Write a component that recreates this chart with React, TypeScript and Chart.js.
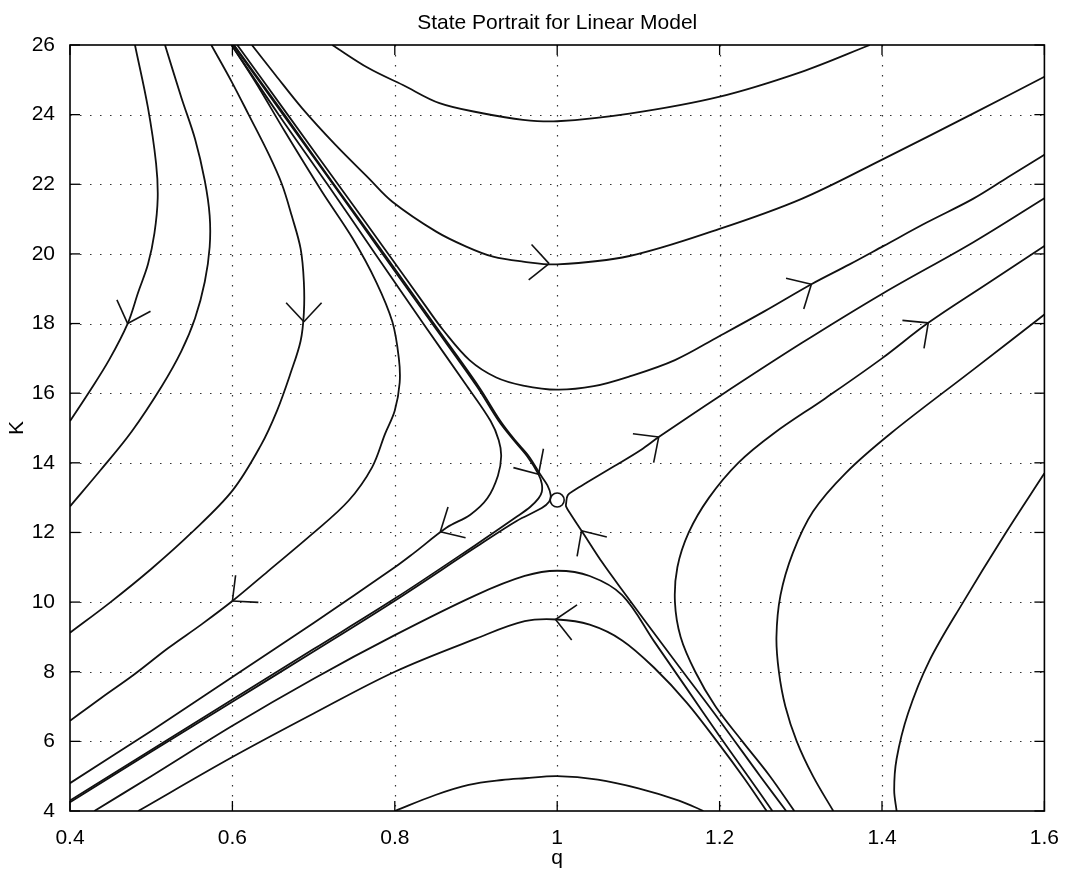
import { useEffect, useRef } from "react";
import { Chart, registerables } from "chart.js";

Chart.register(...registerables);

type P = [number, number];

const titleText = "State Portrait for Linear Model";
const xLabel = "q";
const yLabel = "K";
const qTicks = [0.4, 0.6, 0.8, 1.0, 1.2, 1.4, 1.6];
const kTicks = [4, 6, 8, 10, 12, 14, 16, 18, 20, 22, 24, 26];

const curveA: P[] = [[0.48,26],[0.496,24.2],[0.506,22.6],[0.508,21.6],[0.504,20.6],[0.496,19.7],[0.484,18.9],[0.471,18.0],[0.448,16.95],[0.424,16.05],[0.4,15.2]];
const curveB: P[] = [[0.517,26],[0.537,24.5],[0.554,23.3],[0.566,22.1],[0.572,21.1],[0.572,20.2],[0.566,19.2],[0.554,18.15],[0.537,17.2],[0.513,16.2],[0.476,14.9],[0.438,13.8],[0.4,12.75]];
const curveC: P[] = [[0.574,26],[0.599,24.95],[0.62,24.0],[0.645,22.85],[0.661,22.0],[0.673,21.1],[0.684,20.15],[0.688,19.2],[0.688,18.3],[0.684,17.5],[0.672,16.6],[0.655,15.5],[0.635,14.5],[0.6,13.2],[0.55,12.0],[0.5,10.95],[0.45,10.0],[0.4,9.12]];
const curveD: P[] = [[0.599,26],[0.628,24.95],[0.665,23.5],[0.71,21.8],[0.748,20.45],[0.777,19.2],[0.797,18.05],[0.805,17.0],[0.806,16.3],[0.8,15.5],[0.788,14.83],[0.772,13.87],[0.743,12.91],[0.698,11.95],[0.644,10.89],[0.6,10.03],[0.562,9.36],[0.521,8.68],[0.479,7.92],[0.438,7.24],[0.4,6.59]];
const curveE: P[] = [[0.599,26],[0.657,24],[0.717,22],[0.776,20],[0.835,18],[0.889,16.2],[0.918,15.2],[0.928,14.65],[0.931,14.19],[0.927,13.63],[0.914,12.98],[0.893,12.51],[0.864,12.14],[0.823,11.4],[0.8,11.0],[0.7,9.4],[0.6,7.85],[0.5,6.3],[0.4,4.8]];
const curveS1: P[] = [[0.601,26],[0.6625,24],[0.724,22],[0.785,20],[0.846,18],[0.901,16.2],[0.928,15.2],[0.9465,14.65],[0.963,14.19],[0.977,13.67],[0.981,13.4],[0.981,13.16],[0.977,12.98],[0.967,12.74],[0.95,12.45],[0.9,11.65],[0.8,10.1],[0.7,8.65],[0.6,7.2],[0.5,5.75],[0.4,4.3]];
const curveS2: P[] = [[0.602,26],[0.664,24],[0.725,22],[0.787,20],[0.848,18],[0.903,16.2],[0.93,15.2],[0.948,14.65],[0.965,14.19],[0.979,13.67],[0.988,13.35],[0.992,13.07],[0.99,12.88],[0.981,12.7],[0.95,12.33],[0.9,11.58],[0.8,10.04],[0.7,8.58],[0.6,7.14],[0.5,5.7],[0.4,4.25]];
const curveT1: P[] = [[0.723,26],[0.768,25.33],[0.81,24.85],[0.855,24.33],[0.908,24.04],[0.958,23.85],[1.0,23.81],[1.089,24.03],[1.199,24.51],[1.301,25.23],[1.385,26]];
const curveT2: P[] = [[0.624,26],[0.653,25.14],[0.686,24.18],[0.727,23.13],[0.768,22.17],[0.797,21.5],[0.851,20.64],[0.888,20.21],[0.921,19.92],[0.958,19.78],[1.0,19.7],[1.089,19.94],[1.199,20.71],[1.301,21.58],[1.402,22.73],[1.512,24.03],[1.6,25.09]];
const curveT3: P[] = [[0.606,26],[0.668,24],[0.73,22],[0.792,20],[0.838,18.5],[0.86,17.8],[0.892,16.95],[0.925,16.45],[0.958,16.22],[1.0,16.1],[1.045,16.2],[1.089,16.48],[1.145,16.95],[1.199,17.63],[1.255,18.35],[1.313,19.13],[1.36,19.7],[1.402,20.23],[1.455,20.9],[1.512,21.58],[1.555,22.2],[1.6,22.85]];
const curveR1: P[] = [[1.282,4],[1.25,5.0],[1.2,6.6],[1.15,8.15],[1.11,9.4],[1.085,10.19],[1.056,11.12],[1.03,12.05],[1.017,12.51],[1.011,12.74],[1.011,12.84],[1.013,13.07],[1.021,13.21],[1.037,13.44],[1.07,13.9],[1.103,14.37],[1.125,14.74],[1.199,15.9],[1.301,17.44],[1.402,18.88],[1.512,20.33],[1.6,21.6]];
const curveR2: P[] = [[1.292,4],[1.262,5.0],[1.228,6.0],[1.195,7.0],[1.17,8.0],[1.152,9.0],[1.145,10.0],[1.148,11.0],[1.162,12.0],[1.187,13.0],[1.223,14.0],[1.267,14.85],[1.33,15.85],[1.4,17.0],[1.457,18.02],[1.53,19.15],[1.6,20.23]];
const curveR3: P[] = [[1.34,4],[1.315,5.0],[1.295,6.0],[1.281,7.0],[1.273,8.0],[1.27,9.0],[1.275,10.2],[1.29,11.4],[1.315,12.6],[1.355,13.7],[1.411,14.85],[1.512,16.67],[1.6,18.26]];
const curveR4: P[] = [[1.418,4],[1.415,4.6],[1.418,5.5],[1.432,6.8],[1.458,8.3],[1.5,10.0],[1.55,11.9],[1.6,13.7]];
const curveL1: P[] = [[0.43,4],[0.5,5.0],[0.6,6.45],[0.7,7.8],[0.8,9.05],[0.9,10.2],[0.96,10.75],[1.0,10.9],[1.04,10.75],[1.08,10.2],[1.12,8.85],[1.16,7.5],[1.2,6.15],[1.235,5.0],[1.265,4.0]];
const curveL2: P[] = [[0.484,4],[0.6,5.55],[0.7,6.8],[0.8,8.0],[0.9,8.95],[0.96,9.45],[1.0,9.5],[1.04,9.35],[1.08,8.9],[1.12,8.1],[1.16,7.1],[1.2,5.9],[1.23,4.95],[1.258,4.0]];
const curveL3: P[] = [[0.8,4],[0.85,4.46],[0.891,4.75],[0.932,4.89],[0.96,4.94],[1.0,5.0],[1.05,4.9],[1.1,4.65],[1.15,4.3],[1.18,4.0]];

const saddlePoint: P[] = [[1.0, 12.93]];

// arrow heads: tip point and a point behind it on the same trajectory
const arrowTips: P[] = [[0.471,18.0],[0.688,18.05],[0.6,10.03],[0.856,12.02],[0.977,13.67],[1.03,12.05],[0.99,19.72],[1.125,14.74],[1.313,19.13],[1.457,18.02],[0.998,9.5]];
const arrowTails: P[] = [[0.484,18.9],[0.688,19.0],[0.644,10.89],[0.893,12.51],[0.963,14.19],[1.056,11.12],[0.958,19.78],[1.103,14.37],[1.255,18.35],[1.4,17.0],[1.04,9.35]];

const curves: P[][] = [curveA, curveB, curveC, curveD, curveE, curveS1, curveS2, curveT1, curveT2, curveT3, curveR1, curveR2, curveR3, curveR4, curveL1, curveL2, curveL3];

const FONT = "'Liberation Sans', Arial, Helvetica, sans-serif";
const INK = "#111";

const framePlugin = {
  id: "matlabFrame",
  beforeDatasetsDraw(chart: any) {
    const { ctx, chartArea: a, scales } = chart;
    const x = scales.x, y = scales.y;
    ctx.save();
    ctx.strokeStyle = "#333";
    ctx.lineWidth = 1.2;
    ctx.setLineDash([1.5, 8.5]);
    for (const v of qTicks.slice(1, -1)) {
      const px = Math.round(x.getPixelForValue(v)) + 0.5;
      ctx.beginPath(); ctx.moveTo(px, a.top); ctx.lineTo(px, a.bottom); ctx.stroke();
    }
    for (const v of kTicks.slice(1, -1)) {
      const py = Math.round(y.getPixelForValue(v)) + 0.5;
      ctx.beginPath(); ctx.moveTo(a.left, py); ctx.lineTo(a.right, py); ctx.stroke();
    }
    ctx.restore();
  },
  afterDatasetsDraw(chart: any) {
    const { ctx, chartArea: a, scales } = chart;
    const x = scales.x, y = scales.y;
    ctx.save();
    ctx.strokeStyle = INK;
    ctx.lineWidth = 1.6;
    const L = 26, th = (43 * Math.PI) / 180;
    arrowTips.forEach((tip, i) => {
      const tail = arrowTails[i];
      const tx = x.getPixelForValue(tip[0]), ty = y.getPixelForValue(tip[1]);
      const bx = x.getPixelForValue(tail[0]), by = y.getPixelForValue(tail[1]);
      let dx = bx - tx, dy = by - ty;
      const n = Math.hypot(dx, dy) || 1;
      dx /= n; dy /= n;
      for (const s of [th, -th]) {
        const rx = dx * Math.cos(s) - dy * Math.sin(s);
        const ry = dx * Math.sin(s) + dy * Math.cos(s);
        ctx.beginPath(); ctx.moveTo(tx, ty); ctx.lineTo(tx + rx * L, ty + ry * L); ctx.stroke();
      }
    });
    ctx.strokeStyle = "#000";
    ctx.lineWidth = 1.6;
    ctx.strokeRect(a.left, a.top, a.right - a.left, a.bottom - a.top);
    ctx.lineWidth = 1.3;
    const tl = 10;
    for (const v of qTicks) {
      const px = x.getPixelForValue(v);
      ctx.beginPath(); ctx.moveTo(px, a.bottom); ctx.lineTo(px, a.bottom - tl); ctx.stroke();
      ctx.beginPath(); ctx.moveTo(px, a.top); ctx.lineTo(px, a.top + tl); ctx.stroke();
    }
    for (const v of kTicks) {
      const py = y.getPixelForValue(v);
      ctx.beginPath(); ctx.moveTo(a.left, py); ctx.lineTo(a.left + tl, py); ctx.stroke();
      ctx.beginPath(); ctx.moveTo(a.right, py); ctx.lineTo(a.right - tl, py); ctx.stroke();
    }
    ctx.restore();
  },
};

const fmt = (v: number) => String(Math.round(v * 10) / 10);

export default function App() {
  const ref = useRef<HTMLCanvasElement>(null);
  useEffect(() => {
    document.body.style.margin = "0";
    document.body.style.background = "#fff";
    const canvas = ref.current;
    if (!canvas) return;
    const datasets: any[] = curves.map((c) => ({
      data: c.map(([q, k]) => ({ x: q, y: k })),
      showLine: true,
      borderColor: INK,
      borderWidth: 1.8,
      pointRadius: 0,
      pointHoverRadius: 0,
      tension: 0.35,
      fill: false,
    }));
    datasets.push({
      data: saddlePoint.map(([q, k]) => ({ x: q, y: k })),
      showLine: false,
      pointRadius: 7,
      pointBorderWidth: 1.6,
      pointBorderColor: INK,
      pointBackgroundColor: "#fff",
    });
    const tickFont = { family: FONT, size: 21 };
    const chart = new Chart(canvas, {
      type: "scatter",
      data: { datasets },
      plugins: [framePlugin],
      options: {
        animation: false,
        responsive: false,
        devicePixelRatio: 1,
        layout: { padding: { left: 0, right: 20, top: 0, bottom: 0 } },
        plugins: {
          legend: { display: false },
          tooltip: { enabled: false },
          title: {
            display: true,
            text: titleText,
            fullSize: false,
            color: "#000",
            font: { family: FONT, size: 21, weight: "normal" },
            padding: { top: 10.4, bottom: 9.4 },
          },
        },
        scales: {
          x: {
            type: "linear",
            min: 0.4,
            max: 1.6,
            afterBuildTicks: (s: any) => { s.ticks = qTicks.map((v) => ({ value: v })); },
            afterFit: (s: any) => { s.height = 62; },
            grid: { display: false },
            border: { display: false },
            ticks: { color: "#000", font: tickFont, padding: 7, maxRotation: 0, callback: (v: any) => fmt(Number(v)) },
            title: { display: true, text: xLabel, color: "#000", font: tickFont, padding: { top: 0, bottom: 2 } },
          },
          y: {
            type: "linear",
            min: 4,
            max: 26,
            afterBuildTicks: (s: any) => { s.ticks = kTicks.map((v) => ({ value: v })); },
            afterFit: (s: any) => { s.width = 70; },
            grid: { display: false },
            border: { display: false },
            ticks: { color: "#000", font: tickFont, padding: 7, callback: (v: any) => fmt(Number(v)) },
            title: { display: true, text: yLabel, color: "#000", font: tickFont, padding: { top: 4.5, bottom: 0 } },
          },
        },
      } as any,
    });
    return () => chart.destroy();
  }, []);
  return (
    <div style={{ width: 1066, height: 873 }}>
      <canvas ref={ref} width={1066} height={873} style={{ display: "block", width: 1066, height: 873 }} />
    </div>
  );
}
